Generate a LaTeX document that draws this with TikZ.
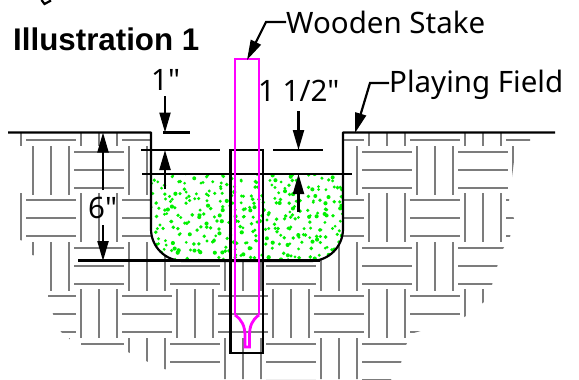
\documentclass[tikz,border=0pt]{standalone}
\usepackage{fontspec}
\newfontfamily\labelfont{Noto Sans}
\newfontfamily\labelbold{Liberation Sans}
\usetikzlibrary{arrows.meta}
\definecolor{hatchgray}{HTML}{7C7C7C}
\definecolor{dotgreen}{HTML}{00F000}
\definecolor{stakepink}{HTML}{FF00FF}
\tikzset{
  hatchline/.style={draw=hatchgray,line width=2.2pt},
  blk/.style={draw=black,line width=2.2pt},
  dim/.style={blk,-{Triangle[length=20pt,width=11pt]}},
  lbl/.style={anchor=base west,inner sep=0pt,font=\labelfont\fontsize{29.5}{30}\selectfont},
  title/.style={anchor=base west,inner sep=0pt,font=\labelbold\bfseries\fontsize{31.3}{32}\selectfont},
  stake/.style={draw=stakepink,line width=2.8pt,line join=miter}
}
\begin{document}
\begin{tikzpicture}[x=1pt,y=-1pt]
\useasboundingbox (0,0) rectangle (579,380);
% ground hatching
\begin{scope}
\clip (20,133) -- (20,147) -- (13,150) -- (16,170) -- (17,190) -- (20,195) -- (20,240) -- (32,243) -- (32,255) -- (50,258) -- (48,296) -- (53,314) -- (61,332) -- (68,337) -- (70,339.5) -- (81,340) -- (81,345) -- (128,352) -- (146,361) -- (164,369) -- (224,379) -- (361,379) -- (361,381.5) -- (390,381.5) -- (401,363) -- (406,345) -- (412,333.5) -- (459,320) -- (466,316) -- (484,302) -- (492,285) -- (497,267) -- (503,249) -- (510,237) -- (514,219) -- (509,201) -- (514,161) -- (530,141) -- (530,133) -- cycle;
\foreach \k in {0,1,2,3}{
  \pgfmathsetmacro{\yb}{97+96*\k}
  \pgfmathsetmacro{\yA}{145+96*\k}
  \foreach \j in {0,...,6}{
    \pgfmathsetmacro{\xa}{33+96*\j}
    \pgfmathsetmacro{\ha}{74+96*\j}
    \foreach \d in {0,18,36}{
      \draw[hatchline] (\xa+\d,\yA+1) -- (\xa+\d,\yA+50);
      \draw[hatchline] (\ha,\yA+7+\d) -- (\ha+50,\yA+7+\d);
    }
    \pgfmathsetmacro{\xb}{-15+96*\j}
    \pgfmathsetmacro{\hb}{26+96*\j}
    \foreach \d in {0,18,36}{
      \draw[hatchline] (\xb+\d,\yb) -- (\xb+\d,\yb+49);
      \draw[hatchline] (\hb,\yb+7+\d) -- (\hb+50,\yb+7+\d);
    }
  }
}
\end{scope}
% pit
\fill[white] (151,133) -- (151,229) arc[start angle=180,end angle=90,radius=32] -- (311,261) arc[start angle=90,end angle=0,radius=32] -- (343,133) -- cycle;
\begin{scope}
\clip (151,174) -- (151,229) arc[start angle=180,end angle=90,radius=32] -- (311,261) arc[start angle=90,end angle=0,radius=32] -- (343,174) -- cycle;
\pgfmathsetseed{4271}
\foreach \i in {0,...,27}{
  \foreach \m in {0,...,12}{
    \pgfmathsetmacro{\px}{151+7*\i+11*rnd-2}
    \pgfmathsetmacro{\py}{175+6.8*\m+10*rnd-2}
    \pgfmathsetmacro{\pr}{1.5+0.6*rnd}
    \fill[dotgreen] (\px,\py) circle[radius=\pr];
  }
}
\end{scope}
% field outline
\coordinate (gl) at (8,132.5);
\coordinate (gr) at (555,132.5);
\draw[blk,line join=round] (gl) -- (151,132.5) -- (151,229) arc[start angle=180,end angle=90,radius=32] -- (311,261) arc[start angle=90,end angle=0,radius=32] -- (343,132.5) -- (gr);
% reference lines
\coordinate (a1) at (163,132.5); \coordinate (a2) at (190,132.5);
\draw[blk] (a1) -- (a2);
\coordinate (b1) at (141,150); \coordinate (b2) at (220,150);
\draw[blk] (b1) -- (b2);
\coordinate (c1) at (273,150); \coordinate (c2) at (323,150);
\draw[blk] (c1) -- (c2);
\coordinate (d1) at (142,174); \coordinate (d2) at (352,174);
\draw[blk] (d1) -- (d2);
\coordinate (e1) at (78,260.5); \coordinate (e2) at (320,260.5);
\draw[blk] (e1) -- (e2);
% stake hole
\draw[blk,line join=miter] (230.5,150) rectangle (263,353);
% stake
\draw[stake] (235,315) -- (235,59) -- (259,59) -- (259,315);
\draw[stake] (235,315) .. controls (242,320) and (245,326) .. (245,336) -- (245,347) -- (249.5,347) -- (249.5,336) .. controls (249.5,326) and (252,320) .. (259,315);
% dimension arrows
\coordinate (s1) at (165,96); \coordinate (t1) at (165,132.5);
\draw[dim] (s1) -- (t1);
\coordinate (s2) at (165,189); \coordinate (t2) at (165,150);
\draw[dim] (s2) -- (t2);
\coordinate (s3) at (103,190); \coordinate (t3) at (103,132.5);
\draw[dim] (s3) -- (t3);
\coordinate (s4) at (103,225); \coordinate (t4) at (103,261);
\draw[dim] (s4) -- (t4);
\coordinate (s5) at (298.5,111); \coordinate (t5) at (298.5,150);
\draw[dim] (s5) -- (t5);
\coordinate (s6) at (298.5,212); \coordinate (t6) at (298.5,174);
\draw[dim] (s6) -- (t6);
% labels
\node[title] (ill) at (13,50) {Illustration 1};
\node[lbl] (wood) at (286,33) {Wooden Stake};
\node[lbl] (field) at (389,92) {Playing Field};
\node[lbl] (one) at (151,90) {1"};
\node[lbl] (onehalf) at (258,101) {1 1/2"};
\node[lbl] (six) at (88,218) {6"};
% leaders
\coordinate (wk) at (266,22); \coordinate (wt) at (247,60);
\draw[dim,line join=miter] (wood.west |- 0,22) -- (wk) -- (wt);
\coordinate (fk) at (370,83); \coordinate (ft) at (355,133);
\draw[dim,line join=miter] (field.west |- 0,83) -- (fk) -- (ft);
% fragment at the top edge
\draw[blk] (41.5,0) -- (44.5,4) -- (51,0.5);
\end{tikzpicture}
\end{document}
